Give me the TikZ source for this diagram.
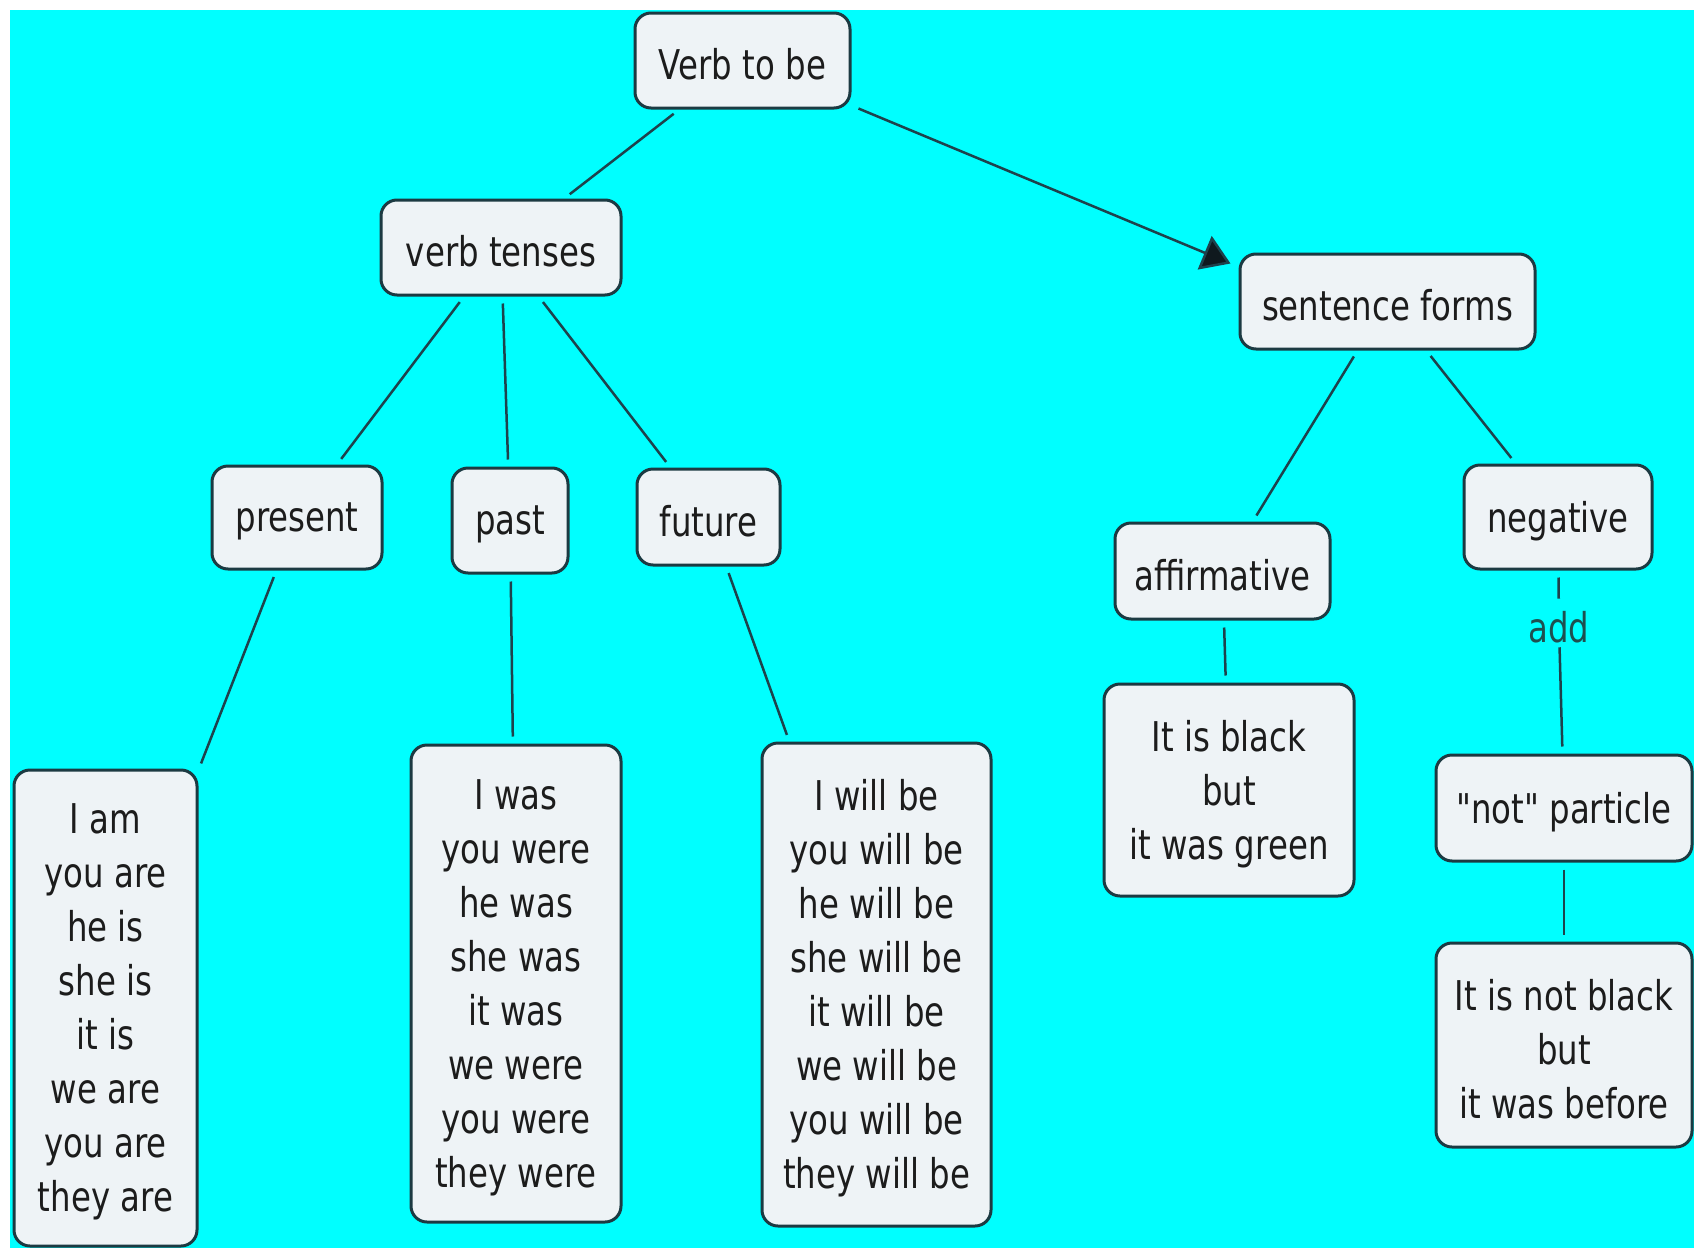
\documentclass[tikz,border=0pt]{standalone}
\usepackage{fontspec}
\setmainfont[FakeStretch=0.79]{DejaVu Sans}
\newfontfamily\plainquotes[FakeStretch=0.79]{DejaVu Sans}
\usetikzlibrary{arrows.meta}
\definecolor{bgcyan}{RGB}{0,255,255}
\definecolor{boxfill}{RGB}{238,243,246}
\definecolor{boxline}{RGB}{28,58,66}
\definecolor{linkcol}{RGB}{30,66,76}
\definecolor{txtcol}{RGB}{28,28,28}
\definecolor{addcol}{RGB}{30,80,80}
\definecolor{headcol}{RGB}{15,25,30}
\tikzset{
  box/.style={draw=boxline, line width=1.5pt, fill=boxfill, rounded corners=8pt,
    inner sep=0pt},
  boxtext/.style={align=center, text=txtcol, inner sep=0pt, yshift=-2pt,
    font=\fontsize{20.5}{27}\selectfont},
  link/.style={draw=linkcol, line width=1.25pt, shorten <=3.5pt, shorten >=3.5pt},
  arrowlink/.style={draw=linkcol, line width=1.25pt,
    -{Triangle[length=14pt,width=18pt,fill=headcol]}},
  lbl/.style={inner sep=2pt, text=addcol, font=\fontsize{20.5}{27}\selectfont}
}
\begin{document}
\begin{tikzpicture}[x=0.5pt,y=-0.5pt]
\useasboundingbox (0,0) rectangle (1694,1248);
\fill[white] (0,0) rectangle (1694,1248);
\fill[bgcyan] (10,10) rectangle (1694,1248);

\node[box, minimum width=107.5pt, minimum height=47.5pt,
  label={[boxtext]center:{Verb to be}}] (vtb) at (742.5,60.5) {};
\node[box, minimum width=120pt, minimum height=47.5pt,
  label={[boxtext]center:{verb tenses}}] (tenses) at (501,247.5) {};
\node[box, minimum width=147.5pt, minimum height=47.5pt,
  label={[boxtext]center:{sentence forms}}] (forms) at (1387.5,301.5) {};
\node[box, minimum width=85pt, minimum height=51.5pt,
  label={[boxtext]center:{present}}] (present) at (297,517.5) {};
\node[box, minimum width=58pt, minimum height=52.5pt,
  label={[boxtext]center:{past}}] (past) at (510,520.5) {};
\node[box, minimum width=71.5pt, minimum height=48pt,
  label={[boxtext]center:{future}}] (future) at (708.5,517) {};
\node[box, minimum width=107.5pt, minimum height=48pt,
  label={[boxtext]center:{affirmative}}] (affirm) at (1222.5,571) {};
\node[box, minimum width=94pt, minimum height=52pt,
  label={[boxtext]center:{negative}}] (negative) at (1558,517) {};
\node[box, minimum width=91.5pt, minimum height=238pt,
  label={[boxtext]center:{I am\\you are\\he is\\she is\\it is\\we are\\you are\\they are}}]
  (am) at (105.5,1008) {};
\node[box, minimum width=105pt, minimum height=238.5pt,
  label={[boxtext]center:{I was\\you were\\he was\\she was\\it was\\we were\\you were\\they were}}]
  (was) at (516,983.5) {};
\node[box, minimum width=114.5pt, minimum height=241.5pt,
  label={[boxtext]center:{I will be\\you will be\\he will be\\she will be\\it will be\\we will be\\you will be\\they will be}}]
  (will) at (876.5,984.5) {};
\node[box, minimum width=125pt, minimum height=106pt,
  label={[boxtext]center:{It is black\\but\\it was green}}] (black) at (1229,790) {};
\node[box, minimum width=128pt, minimum height=53pt,
  label={[boxtext]center:{{\plainquotes "not"} particle}}] (notp) at (1564,808) {};
\node[box, minimum width=128pt, minimum height=102pt,
  label={[boxtext]center:{It is not black\\but\\it was before}}] (notblack) at (1564,1045) {};
\node[lbl] (add) at (1559,627) {add};

\draw[link] (vtb) -- (tenses);
\draw[arrowlink] ([shift={(3.5pt,0.5pt)}]vtb.south east) -- ([shift={(-4pt,-5.5pt)}]forms.north west);
\draw[link] (tenses) -- (present);
\draw[link] (tenses) -- (past);
\draw[link] (tenses) -- (future);
\draw[link] (present) -- (am);
\draw[link] (past) -- (was);
\draw[link] (future) -- (will);
\draw[link] (forms) -- (affirm);
\draw[link] (forms) -- (negative);
\draw[link] (affirm) -- (black);
\draw[link, shorten >=4pt] (negative) -- (add);
\draw[link, shorten <=0pt] (add) -- (notp);
\draw[link] (notp) -- (notblack);
\end{tikzpicture}
\end{document}
